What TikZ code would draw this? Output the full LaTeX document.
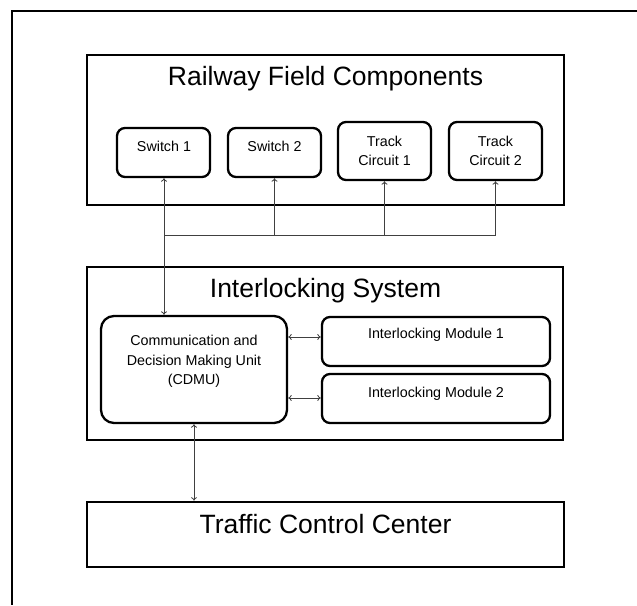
\documentclass[tikz,border=0pt]{standalone}
\usepackage{fontspec}
\setmainfont{Liberation Sans}
\usetikzlibrary{arrows.meta}
\begin{document}
\begin{tikzpicture}[x=1pt,y=-1pt,
  bigbox/.style={draw=black,line width=2.6pt,minimum width=#1,inner sep=0pt},
  rbox/.style={draw=black,line width=2.3pt,rounded corners=8pt,inner sep=0pt},
  title/.style={font=\fontsize{26.5}{30}\selectfont,anchor=base,inner sep=0pt},
  small/.style={font=\fontsize{14.3}{19.5}\selectfont,anchor=base,inner sep=0pt,align=center},
  conn/.style={draw=black!75,line width=0.8pt},
  tip/.style={-{To[length=3.5pt,width=6pt]}},
  tips/.style={{To[length=3.5pt,width=6pt]}-{To[length=3.5pt,width=6pt]}}
]
\useasboundingbox (0,0) rectangle (637,605);
% outer frame (top and left edges visible)
\coordinate (fr1) at (637,11);
\coordinate (fr2) at (12,11);
\coordinate (fr3) at (12,605);
\draw[line width=1.6pt] (fr1) -- (fr2) -- (fr3);

% Railway field components
\node[bigbox=477pt,minimum height=150pt] (rfc) at (325.5,130) {};
\node[title] (rfct) at (325.5,85) {Railway Field Components};
\node[rbox,minimum width=93pt,minimum height=49pt] (sw1) at (163.5,152.5) {};
\node[rbox,minimum width=93pt,minimum height=49pt] (sw2) at (274.5,152.5) {};
\node[rbox,minimum width=93pt,minimum height=58pt] (tc1) at (384.5,151) {};
\node[rbox,minimum width=93pt,minimum height=58pt] (tc2) at (495.5,151) {};
\node[small] (sw1t) at (164,151) {Switch 1};
\node[small] (sw2t) at (274.5,151) {Switch 2};
\node[small] (tc1t) at (384.5,146) {Track};
\node[small] (tc1u) at (384.5,165) {Circuit 1};
\node[small] (tc2t) at (495.5,146) {Track};
\node[small] (tc2u) at (495.5,165) {Circuit 2};

% Interlocking system
\node[bigbox=476pt,minimum height=173pt] (ils) at (325,353.5) {};
\node[title] (ilst) at (325.5,297) {Interlocking System};
\node[rbox,rounded corners=13pt,minimum width=186pt,minimum height=107pt] (cdmu) at (194,369.5) {};
\node[small] (cdmu1) at (194,345) {Communication and};
\node[small] (cdmu2) at (194,365) {Decision Making Unit};
\node[small] (cdmu3) at (194,384) {(CDMU)};
\node[rbox,minimum width=228pt,minimum height=49pt] (im1) at (436,341.5) {};
\node[rbox,minimum width=228pt,minimum height=49pt] (im2) at (436,398.5) {};
\node[small] (im1t) at (436,338) {Interlocking Module 1};
\node[small] (im2t) at (436,397) {Interlocking Module 2};

% Traffic control center
\node[bigbox=477pt,minimum height=65pt] (tcc) at (325.5,534.5) {};
\node[title] (tcct) at (325.5,533) {Traffic Control Center};

% connectors
\coordinate (b1) at (164,235);
\coordinate (b2) at (274.5,235);
\coordinate (b3) at (384.5,235);
\coordinate (b4) at (495.5,235);
\draw[conn] (b1) -- (b4);
\draw[conn,tips] (cdmu.north -| b1) -- (sw1.south -| b1);
\draw[conn,tip] (b2) -- (sw2.south);
\draw[conn,tip] (b3) -- (tc1.south);
\draw[conn,tip] (b4) -- (tc2.south);
\draw[conn,tips] (cdmu.east |- 0,337) -- (im1.west |- 0,337);
\draw[conn,tips] (cdmu.east |- 0,398) -- (im2.west |- 0,398);
\draw[conn,tips] (cdmu.south) -- (tcc.north -| cdmu.south);
\end{tikzpicture}
\end{document}
